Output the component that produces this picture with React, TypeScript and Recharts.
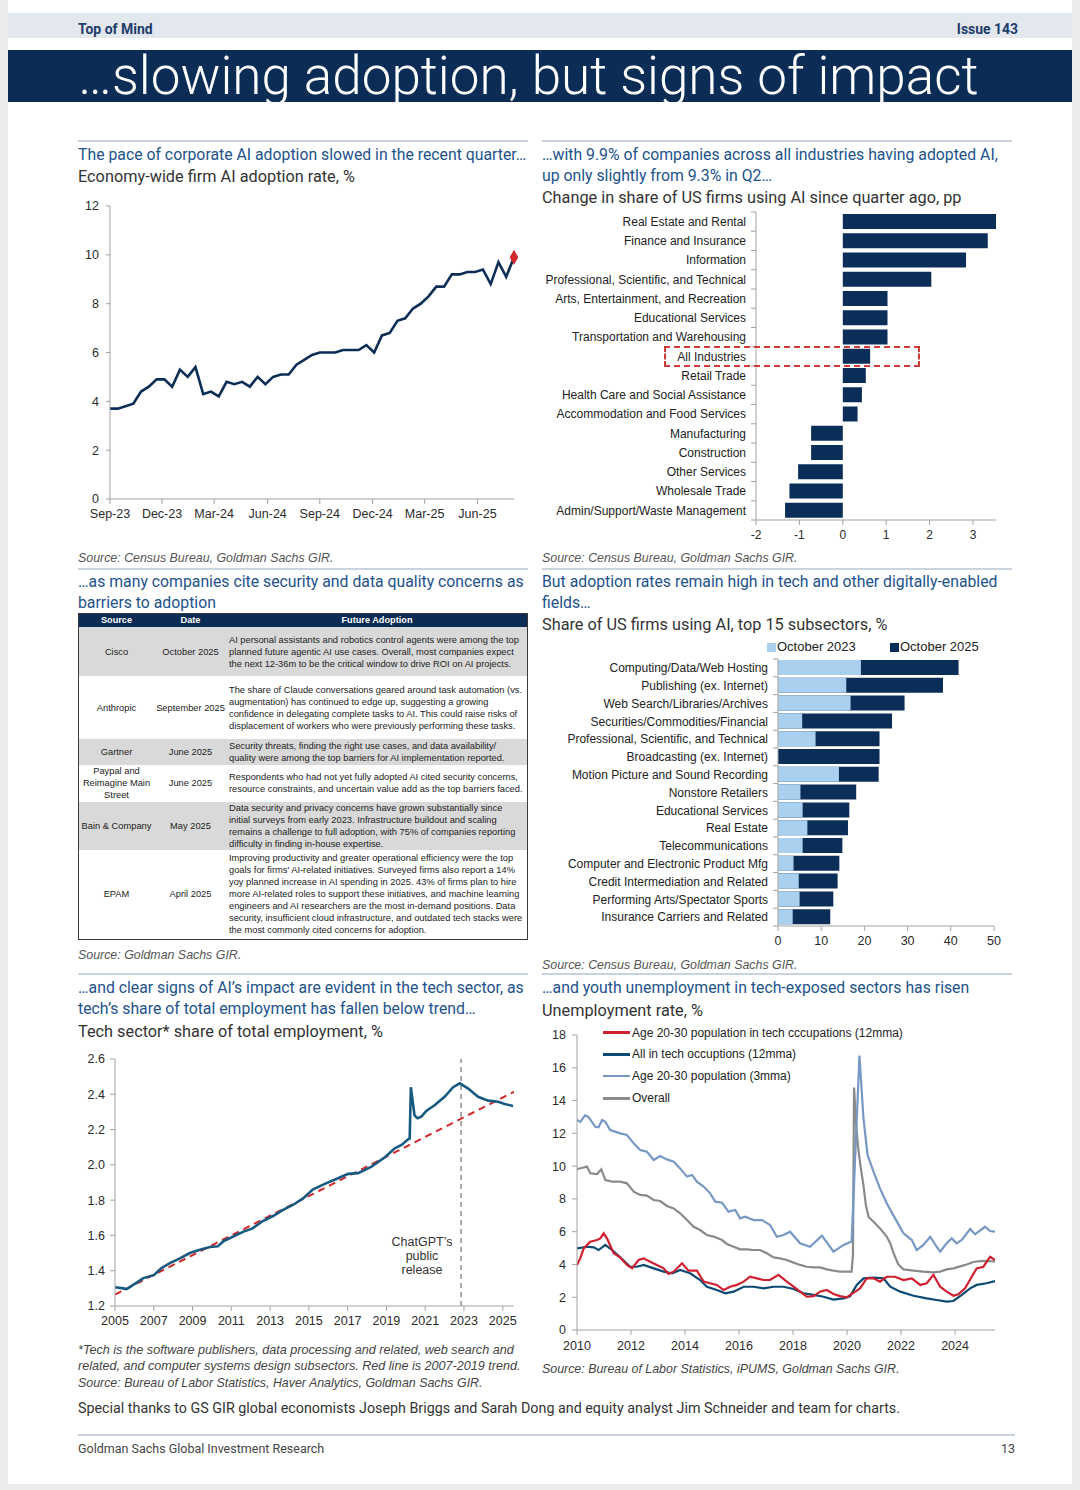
import React from 'react';
import {
  ComposedChart, LineChart, BarChart, Line, Bar, XAxis, YAxis, Scatter, ReferenceLine,
} from 'recharts';

const HEAD = "Roboto, 'Open Sans', sans-serif";
const ARIAL = "'Liberation Sans', Arial, sans-serif";

// ---------- Chart 1: AI adoption rate ----------
const adoptionRate = [3.7, 3.7, 3.8, 3.9, 4.4, 4.6, 4.9, 4.9, 4.6, 5.3, 5.0, 5.4, 4.3, 4.4, 4.2, 4.8, 4.7, 4.8, 4.6, 5.0,
  4.7, 5.0, 5.1, 5.1, 5.5, 5.7, 5.9, 6.0, 6.0, 6.0, 6.1, 6.1, 6.1, 6.3, 6.0, 6.7, 6.8, 7.3, 7.4, 7.8,
  8.0, 8.3, 8.7, 8.7, 9.2, 9.2, 9.3, 9.3, 9.4, 8.8, 9.7, 9.1, 9.9];
const quarterLabels = ['Sep-23', 'Dec-23', 'Mar-24', 'Jun-24', 'Sep-24', 'Dec-24', 'Mar-25', 'Jun-25'];
const quarterPos = [0, 6.7, 13.4, 20.3, 27.0, 33.8, 40.5, 47.3];
const adoptionTicks = [0, 2, 4, 6, 8, 10, 12];

// ---------- Chart 2: change in share by industry ----------
const industries = ['Real Estate and Rental', 'Finance and Insurance', 'Information',
  'Professional, Scientific, and Technical', 'Arts, Entertainment, and Recreation', 'Educational Services',
  'Transportation and Warehousing', 'All Industries', 'Retail Trade', 'Health Care and Social Assistance',
  'Accommodation and Food Services', 'Manufacturing', 'Construction', 'Other Services', 'Wholesale Trade',
  'Admin/Support/Waste Management'];
const changePP = [3.53, 3.34, 2.84, 2.04, 1.03, 1.03, 1.03, 0.63, 0.53, 0.44, 0.34, -0.73, -0.73, -1.03, -1.23, -1.33];
const changeTicks = [-2, -1, 0, 1, 2, 3];

// ---------- Table ----------
const tableSources = ['Cisco', 'Anthropic', 'Gartner', 'Paypal and\nReimagine Main\nStreet', 'Bain & Company', 'EPAM'];
const tableDates = ['October 2025', 'September 2025', 'June 2025', 'June 2025', 'May 2025', 'April 2025'];
const tableText = [
  ['AI personal assistants and robotics control agents were among the top',
    'planned future agentic AI use cases. Overall, most companies expect',
    'the next 12-36m to be the critical window to drive ROI on AI projects.'],
  ['The share of Claude conversations geared around task automation (vs.',
    'augmentation) has continued to edge up, suggesting a growing',
    'confidence in delegating complete tasks to AI. This could raise risks of',
    'displacement of workers who were previously performing these tasks.'],
  ['Security threats, finding the right use cases, and data availability/',
    'quality were among the top barriers for AI implementation reported.'],
  ['Respondents who had not yet fully adopted AI cited security concerns,',
    'resource constraints, and uncertain value add as the top barriers faced.'],
  ['Data security and privacy concerns have grown substantially since',
    'initial surveys from early 2023. Infrastructure buildout and scaling',
    'remains a challenge to full adoption, with 75% of companies reporting',
    'difficulty in finding in-house expertise.'],
  ['Improving productivity and greater operational efficiency were the top',
    "goals for firms' AI-related initiatives. Surveyed firms also report a 14%",
    'yoy planned increase in AI spending in 2025. 43% of firms plan to hire',
    'more AI-related roles to support these initiatives, and machine learning',
    'engineers and AI researchers are the most in-demand positions. Data',
    'security, insufficient cloud infrastructure, and outdated tech stacks were',
    'the most commonly cited concerns for adoption.'],
];
const tableRowH = [49.4, 62.6, 25.7, 37.3, 47.7, 88.3];

// ---------- Chart 4: top 15 subsectors ----------
const subsectors = ['Computing/Data/Web Hosting', 'Publishing (ex. Internet)', 'Web Search/Libraries/Archives',
  'Securities/Commodities/Financial', 'Professional, Scientific, and Technical', 'Broadcasting (ex. Internet)',
  'Motion Picture and Sound Recording', 'Nonstore Retailers', 'Educational Services', 'Real Estate',
  'Telecommunications', 'Computer and Electronic Product Mfg', 'Credit Intermediation and Related',
  'Performing Arts/Spectator Sports', 'Insurance Carriers and Related'];
const oct2023 = [19.2, 15.8, 16.8, 5.6, 8.7, 0, 14.1, 5.2, 5.7, 6.8, 5.7, 3.6, 4.8, 5.0, 3.4];
const oct2025 = [41.8, 38.2, 29.3, 26.4, 23.5, 23.5, 23.3, 18.1, 16.5, 16.2, 14.9, 14.2, 13.8, 12.8, 12.1];
const shareTicks = [0, 10, 20, 30, 40, 50];

// ---------- Chart 5: tech share of employment ----------
const techShare = [
  [2005.0, 1.306], [2005.43, 1.30], [2005.6, 1.296], [2005.94, 1.32], [2006.46, 1.358], [2007.0, 1.375],
  [2007.4, 1.415], [2007.83, 1.443], [2008.35, 1.47], [2008.86, 1.50], [2009.38, 1.519], [2009.9, 1.534],
  [2010.3, 1.538], [2010.58, 1.566], [2011.1, 1.594], [2011.6, 1.62], [2012.1, 1.64], [2012.6, 1.68],
  [2013.15, 1.71], [2013.67, 1.745], [2014.2, 1.774], [2014.7, 1.81], [2015.2, 1.86], [2015.82, 1.892],
  [2016.5, 1.924], [2017.03, 1.949], [2017.54, 1.953], [2018.23, 1.99], [2018.92, 2.043], [2019.43, 2.094],
  [2019.78, 2.113], [2020.12, 2.145], [2020.2, 2.15], [2020.26, 2.44], [2020.45, 2.28], [2020.6, 2.264],
  [2020.8, 2.273], [2021.07, 2.307], [2021.5, 2.339], [2022.0, 2.386], [2022.44, 2.44], [2022.78, 2.462],
  [2023.2, 2.434], [2023.73, 2.386], [2024.24, 2.364], [2024.76, 2.358], [2025.1, 2.345], [2025.53, 2.334],
];
const techTrend = [[2005.0, 1.265], [2025.58, 2.414]];
const techYearTicks = [2005, 2007, 2009, 2011, 2013, 2015, 2017, 2019, 2021, 2023, 2025];
const techShareTicks = [1.2, 1.4, 1.6, 1.8, 2.0, 2.2, 2.4, 2.6];
const chatGptRelease = 2022.85;

// ---------- Chart 6: unemployment ----------
const youthTech = [
  [2010.0, 3.97], [2010.12, 4.37], [2010.25, 4.98], [2010.49, 5.39], [2010.74, 5.49], [2010.86, 5.59],
  [2010.99, 5.9], [2011.11, 5.59], [2011.36, 4.68], [2011.6, 4.43], [2011.85, 3.97], [2012.04, 3.76],
  [2012.28, 4.27], [2012.47, 4.37], [2012.71, 4.17], [2012.96, 3.97], [2013.21, 3.76], [2013.39, 3.42],
  [2013.58, 3.56], [2013.89, 4.07], [2014.13, 3.62], [2014.44, 3.62], [2014.69, 2.95], [2014.93, 2.85],
  [2015.18, 2.75], [2015.43, 2.44], [2015.67, 2.64], [2015.92, 2.75], [2016.17, 2.95], [2016.41, 3.25],
  [2016.66, 3.15], [2016.91, 3.05], [2017.15, 3.05], [2017.46, 3.36], [2017.77, 2.95], [2018.02, 2.64],
  [2018.26, 2.34], [2018.51, 2.03], [2018.76, 2.07], [2019.0, 2.34], [2019.25, 2.44], [2019.5, 2.2],
  [2019.74, 2.07], [2019.99, 1.99], [2020.12, 2.14], [2020.48, 2.54], [2020.73, 3.15], [2020.98, 3.15],
  [2021.22, 2.95], [2021.47, 3.25], [2021.78, 3.25], [2022.09, 3.05], [2022.4, 3.15], [2022.71, 2.75],
  [2022.95, 2.85], [2023.2, 3.36], [2023.45, 2.64], [2023.69, 2.34], [2023.94, 2.09], [2024.12, 2.18],
  [2024.37, 2.54], [2024.62, 3.25], [2024.8, 3.76], [2025.05, 3.86], [2025.3, 4.47], [2025.48, 4.27],
];
const allTech = [
  [2010.0, 4.98], [2010.37, 5.08], [2010.62, 5.04], [2010.8, 4.88], [2011.05, 5.19], [2011.3, 4.88],
  [2011.6, 4.43], [2011.97, 3.86], [2012.22, 3.86], [2012.47, 3.97], [2012.84, 3.76], [2013.21, 3.56],
  [2013.52, 3.46], [2013.82, 3.66], [2014.19, 3.46], [2014.56, 3.05], [2014.81, 2.64], [2015.18, 2.44],
  [2015.49, 2.24], [2015.8, 2.34], [2016.17, 2.64], [2016.54, 2.64], [2016.91, 2.54], [2017.28, 2.64],
  [2017.65, 2.64], [2018.02, 2.5], [2018.39, 2.24], [2018.76, 2.14], [2019.13, 2.03], [2019.5, 1.86],
  [2019.87, 1.93], [2020.11, 2.05], [2020.36, 2.75], [2020.61, 3.15], [2020.98, 3.19], [2021.35, 3.15],
  [2021.6, 2.64], [2021.97, 2.34], [2022.46, 2.09], [2022.95, 1.93], [2023.32, 1.83], [2023.69, 1.73],
  [2023.94, 1.77], [2024.25, 2.14], [2024.56, 2.54], [2024.8, 2.75], [2025.17, 2.85], [2025.48, 2.99],
];
const youthAll = [
  [2010.0, 12.81], [2010.12, 12.7], [2010.3, 13.1], [2010.42, 13.0], [2010.68, 12.4], [2010.8, 12.37],
  [2010.93, 12.81], [2011.05, 12.7], [2011.23, 12.2], [2011.6, 12.0], [2011.85, 11.9], [2012.1, 11.39],
  [2012.34, 10.98], [2012.59, 10.88], [2012.84, 10.37], [2013.08, 10.62], [2013.33, 10.41], [2013.58, 10.27],
  [2013.82, 9.86], [2014.07, 9.36], [2014.26, 9.46], [2014.44, 9.05], [2014.69, 8.75], [2014.93, 8.34],
  [2015.12, 7.83], [2015.37, 7.77], [2015.61, 7.22], [2015.86, 7.32], [2016.04, 6.81], [2016.23, 6.91],
  [2016.54, 6.71], [2016.85, 6.71], [2017.15, 6.41], [2017.4, 5.69], [2017.65, 5.8], [2017.89, 6.0],
  [2018.26, 5.29], [2018.63, 5.08], [2019.07, 5.76], [2019.5, 4.78], [2019.87, 5.19], [2020.17, 5.4],
  [2020.46, 16.74], [2020.61, 12.9], [2020.76, 10.68], [2020.98, 9.66], [2021.22, 8.64], [2021.47, 7.73],
  [2021.78, 6.81], [2022.09, 5.9], [2022.4, 5.49], [2022.58, 4.88], [2022.83, 5.19], [2023.08, 5.69],
  [2023.32, 5.08], [2023.45, 4.78], [2023.69, 5.29], [2023.88, 5.59], [2024.06, 5.29], [2024.25, 5.49],
  [2024.56, 6.16], [2024.74, 5.84], [2025.11, 6.3], [2025.3, 6.04], [2025.48, 6.0],
];
const overall = [
  [2010.0, 9.82], [2010.2, 9.9], [2010.37, 9.97], [2010.49, 9.56], [2010.74, 9.52], [2010.9, 9.8],
  [2011.05, 9.15], [2011.3, 9.05], [2011.6, 9.05], [2011.85, 8.95], [2012.1, 8.44], [2012.34, 8.24],
  [2012.59, 8.2], [2012.84, 7.93], [2013.08, 7.87], [2013.33, 7.57], [2013.58, 7.42], [2013.82, 7.12],
  [2014.07, 6.71], [2014.32, 6.3], [2014.56, 6.1], [2014.81, 5.8], [2015.06, 5.7], [2015.37, 5.49],
  [2015.55, 5.25], [2015.8, 5.08], [2016.04, 4.92], [2016.29, 4.92], [2016.54, 4.88], [2016.78, 4.88],
  [2017.03, 4.68], [2017.28, 4.43], [2017.52, 4.37], [2017.77, 4.27], [2018.02, 4.11], [2018.26, 3.97],
  [2018.51, 3.86], [2018.76, 3.82], [2019.0, 3.82], [2019.25, 3.7], [2019.5, 3.62], [2019.74, 3.56],
  [2020.0, 3.56], [2020.17, 3.56], [2020.22, 4.6], [2020.26, 14.8], [2020.34, 12.5], [2020.42, 11.0],
  [2020.5, 10.0], [2020.61, 8.8], [2020.7, 7.6], [2020.8, 6.9], [2020.98, 6.6], [2021.22, 6.2],
  [2021.47, 5.7], [2021.6, 5.3], [2021.72, 4.7], [2021.9, 4.0], [2022.09, 3.7], [2022.46, 3.62],
  [2022.83, 3.56], [2023.2, 3.52], [2023.45, 3.56], [2023.69, 3.7], [2023.94, 3.76], [2024.19, 3.88],
  [2024.43, 4.0], [2024.68, 4.15], [2024.93, 4.2], [2025.17, 4.22], [2025.48, 4.18],
];
const unempYearTicks = [2010, 2012, 2014, 2016, 2018, 2020, 2022, 2024];
const unempTicks = [0, 2, 4, 6, 8, 10, 12, 14, 16, 18];
const unempLegend = [
  { name: 'Age 20-30 population in tech cccupations (12mma)', color: '#cf2030' },
  { name: 'All in tech occuptions (12mma)', color: '#0c4a73' },
  { name: 'Age 20-30 population (3mma)', color: '#7898c4' },
  { name: 'Overall', color: '#8a8a8a' },
];

// ---------- helpers ----------
const toPts = (arr: number[][]) => arr.map(([x, v]) => ({ x, v }));

const Txt = ({ x, y, size = 15.8, color = '#333', font = HEAD, weight = 400, italic = false, right = false, spacing = 0, children }: any) => (
  <div style={{
    position: 'absolute', left: right ? undefined : x, right: right ? 1080 - x : undefined,
    top: y - size * 0.62, fontSize: size, lineHeight: `${size * 1.3}px`, color, fontFamily: font,
    fontWeight: weight, fontStyle: italic ? 'italic' : 'normal', whiteSpace: 'nowrap', letterSpacing: spacing,
  }}>{children}</div>
);

const Sep = ({ x, y, w }: any) => (
  <div style={{ position: 'absolute', left: x, top: y - 1, width: w, height: 2, background: '#c9d3de' }} />
);

const tickStyle = { fill: '#2b2b2b', fontSize: 12.5, fontFamily: ARIAL };
const AXIS = '#a3a3a3';

const makeCatTick = (band: number, fontSize: number, n: number) => (props: any) => {
  const { x, y, payload, index } = props;
  const ax = x + 10;
  return (
    <g>
      <text x={x} y={y} dy={fontSize * 0.35} textAnchor="end" fontSize={fontSize} fontFamily={ARIAL} fill="#222">
        {payload.value}
      </text>
      <line x1={ax - 5} x2={ax} y1={y - band / 2} y2={y - band / 2} stroke={AXIS} />
      {index === n - 1 ? <line x1={ax - 5} x2={ax} y1={y + band / 2} y2={y + band / 2} stroke={AXIS} /> : null}
    </g>
  );
};

const blueTitle = '#22528c';
const SRC = 12.4;

export default function App() {
  const adoptionData = adoptionRate.map((v, i) => ({ i, v }));
  const lastPt = [{ i: adoptionRate.length - 1, v: adoptionRate[adoptionRate.length - 1] }];
  const changeData = industries.map((name, k) => ({ name, v: changePP[k] }));
  const shareData = subsectors.map((name, k) => ({ name, a: oct2023[k], b: oct2025[k] }));

  const c2PlotH = 345 - 7 - 30;
  const c4PlotH = 320 - 19 - 34;

  return (
    <div style={{ position: 'absolute', left: 0, top: 0, width: 1080, height: 1490, background: '#ebebee', overflow: 'hidden' }}>
      <div style={{ position: 'absolute', left: 8, top: 0, width: 1064, height: 1484, background: '#fff' }} />
      {/* header */}
      <div style={{ position: 'absolute', left: 8, top: 13, width: 1064, height: 25, background: '#e3e7ee' }} />
      <div style={{ position: 'absolute', left: 78, top: 19, fontFamily: HEAD, fontWeight: 700, fontSize: 15.5, lineHeight: '20px', color: '#1d3c6b', transform: 'scaleX(0.9)', transformOrigin: 'left center', whiteSpace: 'nowrap' }}>Top of Mind</div>
      <div style={{ position: 'absolute', right: 1080 - 1018, top: 19, fontFamily: HEAD, fontWeight: 700, fontSize: 15.5, lineHeight: '20px', color: '#1d3c6b', transform: 'scaleX(0.9)', transformOrigin: 'right center', whiteSpace: 'nowrap' }}>Issue 143</div>
      <div style={{ position: 'absolute', left: 8, top: 50, width: 1064, height: 52, background: '#0b2c54' }} />
      <div style={{ position: 'absolute', left: 78, top: 46, fontFamily: HEAD, fontWeight: 300, fontSize: 53, lineHeight: '60px', color: '#fff', whiteSpace: 'nowrap' }}>…slowing adoption, but signs of impact</div>

      {/* row 1 titles */}
      <Sep x={78} y={141} w={450} />
      <Sep x={542} y={141} w={470} />
      <Txt x={78} y={155} color={blueTitle}>The pace of corporate AI adoption slowed in the recent quarter…</Txt>
      <Txt x={78} y={176} size={16.3}>Economy-wide firm AI adoption rate, %</Txt>
      <Txt x={542} y={155} color={blueTitle}>…with 9.9% of companies across all industries having adopted AI,</Txt>
      <Txt x={542} y={176} color={blueTitle}>up only slightly from 9.3% in Q2…</Txt>
      <Txt x={542} y={197} size={16.3}>Change in share of US firms using AI since quarter ago, pp</Txt>

      {/* Chart 1 */}
      <div style={{ position: 'absolute', left: 70, top: 196 }}>
        <ComposedChart width={455} height={340} data={adoptionData} margin={{ top: 10, right: 11, bottom: 7, left: 0 }}>
          <XAxis dataKey="i" type="number" domain={[0, 52]} ticks={quarterPos} interval={0}
            tickFormatter={(v: number) => quarterLabels[quarterPos.indexOf(v)]}
            height={30} tickSize={5} tickMargin={5} stroke={AXIS} tick={tickStyle} />
          <YAxis type="number" domain={[0, 12]} ticks={adoptionTicks} width={40} tickSize={4} tickMargin={7}
            stroke={AXIS} tick={tickStyle} interval={0} />
          <Line dataKey="v" stroke="#0c2d55" strokeWidth={2.6} dot={false} activeDot={false} isAnimationActive={false} />
          <Scatter data={lastPt} dataKey="v" shape="diamond" fill="#d1262b" isAnimationActive={false} />
        </ComposedChart>
      </div>
      <Txt x={78} y={558} size={SRC} italic font={ARIAL} color="#555">Source: Census Bureau, Goldman Sachs GIR.</Txt>

      {/* Chart 2 */}
      <div style={{ position: 'absolute', left: 540, top: 205 }}>
        <BarChart width={470} height={345} data={changeData} layout="vertical" margin={{ top: 7, right: 14, bottom: 5, left: 0 }}>
          <XAxis type="number" domain={[-2, 3.5]} ticks={changeTicks} interval={0} height={25} tickSize={5} tickMargin={5}
            stroke={AXIS} tick={{ ...tickStyle, fontSize: 12 }} />
          <YAxis type="category" dataKey="name" width={216} tickSize={0} tickMargin={10} tickLine={false} interval={0}
            stroke={AXIS} tick={makeCatTick(c2PlotH / industries.length, 12, industries.length)} />
          <Bar dataKey="v" fill="#0a2e58" barSize={15} isAnimationActive={false} />
        </BarChart>
      </div>
      <div style={{ position: 'absolute', left: 664, top: 346, width: 256, height: 21, border: '2px dashed #d23a3a', boxSizing: 'border-box' }} />
      <Txt x={542} y={558} size={SRC} italic font={ARIAL} color="#555">Source: Census Bureau, Goldman Sachs GIR.</Txt>

      {/* row 2 titles */}
      <Sep x={78} y={569} w={450} />
      <Sep x={542} y={569} w={470} />
      <Txt x={78} y={582} color={blueTitle}>…as many companies cite security and data quality concerns as</Txt>
      <Txt x={78} y={603} color={blueTitle}>barriers to adoption</Txt>
      <Txt x={542} y={582} color={blueTitle}>But adoption rates remain high in tech and other digitally-enabled</Txt>
      <Txt x={542} y={603} color={blueTitle}>fields…</Txt>
      <Txt x={542} y={624} size={16.3}>Share of US firms using AI, top 15 subsectors, %</Txt>

      {/* Table */}
      <div style={{ position: 'absolute', left: 78, top: 613, width: 450, height: 327, border: '1.5px solid #3a3a3a', boxSizing: 'border-box', fontFamily: ARIAL, color: '#222', overflow: 'hidden' }}>
        <div style={{ display: 'flex', height: 13, background: '#0b2c54', color: '#fff', fontWeight: 700, fontSize: 9.2, lineHeight: '13px' }}>
          <div style={{ width: 75, textAlign: 'center' }}>Source</div>
          <div style={{ width: 73, textAlign: 'center' }}>Date</div>
          <div style={{ flex: 1, textAlign: 'center' }}>Future Adoption</div>
        </div>
        {tableSources.map((s, k) => (
          <div key={k} style={{ display: 'flex', alignItems: 'center', height: tableRowH[k], background: k % 2 === 0 ? '#d9d9d9' : '#fff', fontSize: 9.3, lineHeight: '12px' }}>
            <div style={{ width: 75, textAlign: 'center', whiteSpace: 'pre' }}>{s}</div>
            <div style={{ width: 73, textAlign: 'center', whiteSpace: 'nowrap' }}>{tableDates[k]}</div>
            <div style={{ flex: 1, paddingLeft: 2, whiteSpace: 'nowrap' }}>
              {tableText[k].map((l, j) => <div key={j}>{l}</div>)}
            </div>
          </div>
        ))}
      </div>
      <Txt x={78} y={955} size={SRC} italic font={ARIAL} color="#555">Source: Goldman Sachs GIR.</Txt>

      {/* Chart 4 */}
      <div style={{ position: 'absolute', left: 767, top: 643, width: 9, height: 9, background: '#a9d0ef' }} />
      <Txt x={777} y={647.5} size={13} font={ARIAL} color="#222">October 2023</Txt>
      <div style={{ position: 'absolute', left: 890, top: 643, width: 9, height: 9, background: '#0a2e58' }} />
      <Txt x={900} y={647.5} size={13} font={ARIAL} color="#222">October 2025</Txt>
      <div style={{ position: 'absolute', left: 540, top: 640 }}>
        <BarChart width={470} height={320} data={shareData} layout="vertical" barGap={-15} margin={{ top: 19, right: 16, bottom: 6, left: 0 }}>
          <XAxis type="number" domain={[0, 50]} ticks={shareTicks} interval={0} height={28} tickSize={5} tickMargin={5}
            stroke={AXIS} tick={tickStyle} />
          <YAxis type="category" dataKey="name" width={238} tickSize={0} tickMargin={10} tickLine={false} interval={0}
            stroke={AXIS} tick={makeCatTick(c4PlotH / subsectors.length, 12, subsectors.length)} />
          <Bar dataKey="b" fill="#0a2e58" barSize={15} isAnimationActive={false} />
          <Bar dataKey="a" fill="#a9d0ef" barSize={15} isAnimationActive={false} />
        </BarChart>
      </div>
      <Txt x={542} y={965} size={SRC} italic font={ARIAL} color="#555">Source: Census Bureau, Goldman Sachs GIR.</Txt>

      {/* row 3 titles */}
      <Sep x={78} y={974} w={450} />
      <Sep x={542} y={974} w={470} />
      <Txt x={78} y={988} color={blueTitle}>…and clear signs of AI’s impact are evident in the tech sector, as</Txt>
      <Txt x={78} y={1009} color={blueTitle}>tech’s share of total employment has fallen below trend…</Txt>
      <Txt x={78} y={1031} size={16.3}>Tech sector* share of total employment, %</Txt>
      <Txt x={542} y={988} color={blueTitle}>…and youth unemployment in tech-exposed sectors has risen</Txt>
      <Txt x={542} y={1010} size={16.3}>Unemployment rate, %</Txt>

      {/* Chart 5 */}
      <div style={{ position: 'absolute', left: 70, top: 1050 }}>
        <LineChart width={455} height={290} margin={{ top: 9, right: 11, bottom: 6, left: 0 }}>
          <XAxis dataKey="x" type="number" domain={[2005, 2025.58]} ticks={techYearTicks} interval={0} height={28}
            tickSize={5} tickMargin={5} stroke={AXIS} tick={tickStyle} allowDataOverflow />
          <YAxis type="number" domain={[1.2, 2.6]} ticks={techShareTicks} interval={0} width={45} tickSize={5} tickMargin={5}
            tickFormatter={(v: number) => v.toFixed(1)} stroke={AXIS} tick={tickStyle} allowDataOverflow />
          <ReferenceLine x={chatGptRelease} stroke="#8e8e8e" strokeWidth={1.5} strokeDasharray="5 4" />
          <Line data={toPts(techTrend)} dataKey="v" stroke="#d0282c" strokeWidth={2} strokeDasharray="7 5" dot={false} activeDot={false} isAnimationActive={false} />
          <Line data={toPts(techShare)} dataKey="v" stroke="#175a80" strokeWidth={2.6} dot={false} activeDot={false} isAnimationActive={false} />
        </LineChart>
      </div>
      <div style={{ position: 'absolute', left: 372, top: 1235, width: 100, textAlign: 'center', fontFamily: ARIAL, fontSize: 12.5, lineHeight: '14px', color: '#333' }}>
        ChatGPT’s<br />public<br />release
      </div>

      {/* Chart 6 */}
      <div style={{ position: 'absolute', left: 540, top: 1025 }}>
        <LineChart width={470} height={340} margin={{ top: 10, right: 15, bottom: 7, left: 0 }}>
          <XAxis dataKey="x" type="number" domain={[2010, 2025.48]} ticks={unempYearTicks} interval={0} height={28}
            tickSize={5} tickMargin={6} stroke={AXIS} tick={tickStyle} allowDataOverflow />
          <YAxis type="number" domain={[0, 18]} ticks={unempTicks} interval={0} width={37} tickSize={5} tickMargin={6}
            stroke={AXIS} tick={tickStyle} allowDataOverflow />
          <Line data={toPts(overall)} dataKey="v" stroke="#8a8a8a" strokeWidth={2.2} dot={false} activeDot={false} isAnimationActive={false} />
          <Line data={toPts(youthAll)} dataKey="v" stroke="#7898c4" strokeWidth={2.2} dot={false} activeDot={false} isAnimationActive={false} />
          <Line data={toPts(allTech)} dataKey="v" stroke="#0c4a73" strokeWidth={2.2} dot={false} activeDot={false} isAnimationActive={false} />
          <Line data={toPts(youthTech)} dataKey="v" stroke="#cf2030" strokeWidth={2.2} dot={false} activeDot={false} isAnimationActive={false} />
        </LineChart>
      </div>
      {unempLegend.map((l, k) => (
        <div key={k} style={{ position: 'absolute', left: 603, top: [1032.7, 1054.3, 1076, 1098.3][k] - 8, height: 16, display: 'flex', alignItems: 'center' }}>
          <div style={{ width: 27, height: 2.5, background: l.color }} />
          <div style={{ marginLeft: 2, fontFamily: ARIAL, fontSize: 12, color: '#222', whiteSpace: 'nowrap' }}>{l.name}</div>
        </div>
      ))}

      {/* footnotes */}
      <Txt x={78} y={1350} size={12.6} italic font={ARIAL} color="#444">*Tech is the software publishers, data processing and related, web search and</Txt>
      <Txt x={78} y={1366} size={12.6} italic font={ARIAL} color="#444">related, and computer systems design subsectors. Red line is 2007-2019 trend.</Txt>
      <Txt x={78} y={1383} size={SRC} italic font={ARIAL} color="#444">Source: Bureau of Labor Statistics, Haver Analytics, Goldman Sachs GIR.</Txt>
      <Txt x={542} y={1369} size={SRC} italic font={ARIAL} color="#444">Source: Bureau of Labor Statistics, iPUMS, Goldman Sachs GIR.</Txt>
      <Txt x={78} y={1408} size={14.3} color="#333">Special thanks to GS GIR global economists Joseph Briggs and Sarah Dong and equity analyst Jim Schneider and team for charts.</Txt>

      <Sep x={78} y={1435} w={937} />
      <Txt x={78} y={1449} size={12.5} color="#444">Goldman Sachs Global Investment Research</Txt>
      <Txt x={1015} y={1449} size={12.5} color="#444" right>13</Txt>
    </div>
  );
}
